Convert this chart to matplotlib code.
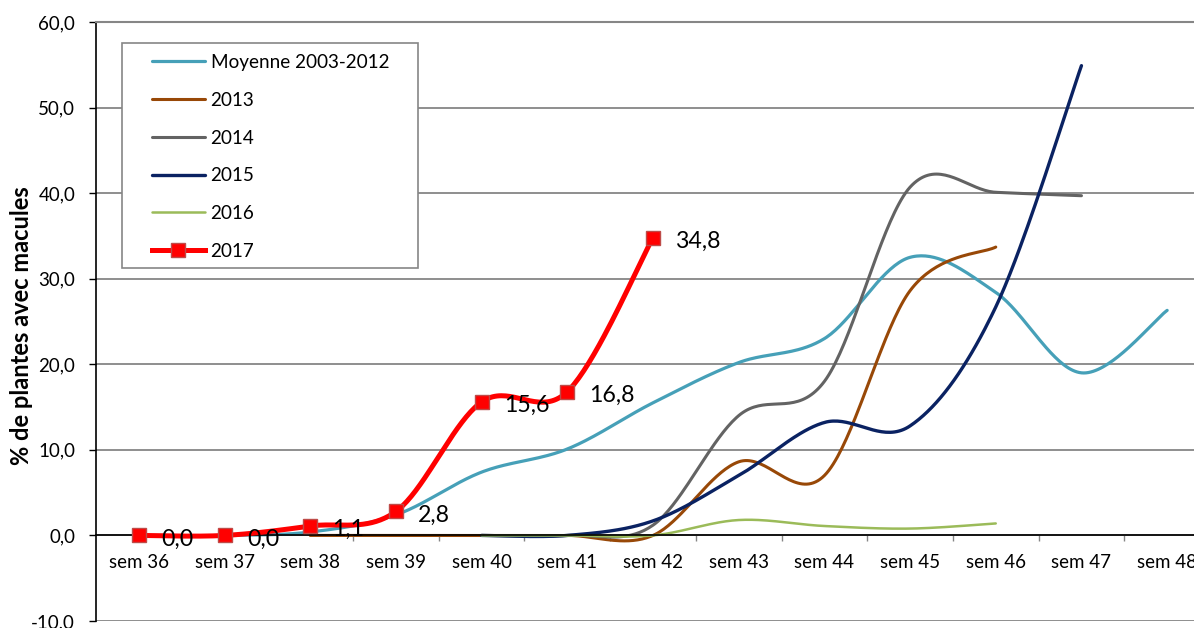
import numpy as np
import matplotlib
matplotlib.use('Agg')
from matplotlib import pyplot as plt
from matplotlib.patches import Rectangle

plt.rcParams['font.family'] = ['Lato', 'DejaVu Sans']

# semaines (axe des categories)
semaines = ['sem 36', 'sem 37', 'sem 38', 'sem 39', 'sem 40', 'sem 41', 'sem 42',
            'sem 43', 'sem 44', 'sem 45', 'sem 46', 'sem 47', 'sem 48']

# % de plantes avec macules
moyenne = [0.0, 0.0, 0.4, 2.4, 7.4, 10.1, 15.5, 20.2, 23.0, 32.5, 28.4, 19.0, 26.3]
y2013 = [0.0, 0.0, 0.0, 0.0, 0.0, 8.6, 7.0, 28.6, 33.7]          # sem 38 -> 46
y2014 = [0.0, 0.0, 1.2, 14.0, 18.0, 40.7, 40.1, 39.7]             # sem 40 -> 47
y2015 = [0.0, 0.0, 1.7, 7.0, 13.2, 12.8, 26.7, 54.9]              # sem 40 -> 47
y2016 = [0.0, 0.0, 0.0, 1.8, 1.1, 0.8, 1.4]                       # sem 40 -> 46
y2017 = [0.0, 0.0, 1.1, 2.8, 15.6, 16.8, 34.8]                    # sem 36 -> 42

debut = {'moyenne': 0, '2013': 2, '2014': 4, '2015': 4, '2016': 4, '2017': 0}


def lissage(x, y, n=40):
    # courbe lissee facon Excel (Catmull-Rom, extremites dupliquees)
    x = np.asarray(x, float)
    y = np.asarray(y, float)
    px = np.concatenate([[x[0]], x, [x[-1]]])
    py = np.concatenate([[y[0]], y, [y[-1]]])
    t = np.linspace(0, 1, n)
    h00 = 2 * t**3 - 3 * t**2 + 1
    h10 = t**3 - 2 * t**2 + t
    h01 = -2 * t**3 + 3 * t**2
    h11 = t**3 - t**2
    xs, ys = [], []
    for i in range(1, len(px) - 2):
        mx1 = (px[i + 1] - px[i - 1]) / 2
        mx2 = (px[i + 2] - px[i]) / 2
        my1 = (py[i + 1] - py[i - 1]) / 2
        my2 = (py[i + 2] - py[i]) / 2
        xs.append(h00 * px[i] + h10 * mx1 + h01 * px[i + 1] + h11 * mx2)
        ys.append(h00 * py[i] + h10 * my1 + h01 * py[i + 1] + h11 * my2)
    return np.concatenate(xs), np.concatenate(ys)


W, H = 1194, 628
fig = plt.figure(figsize=(W / 100, H / 100), dpi=100)
ax = fig.add_axes([96 / W, 7 / H, 1114 / W, 599 / H])
ax.set_xlim(-0.5, len(semaines) - 0.5)
ax.set_ylim(-10, 60)

series = [
    ('Moyenne 2003-2012', moyenne, debut['moyenne'], '#46A0B8', 2.3),
    ('2013', y2013, debut['2013'], '#984807', 2.2),
    ('2014', y2014, debut['2014'], '#636363', 2.2),
    ('2015', y2015, debut['2015'], '#0A2262', 2.4),
    ('2016', y2016, debut['2016'], '#9BBB59', 1.8),
]

handles = []
for nom, vals, d, col, lw in series:
    x = np.arange(d, d + len(vals))
    sx, sy = lissage(x, vals)
    ln, = ax.plot(sx, sy, color=col, lw=lw, solid_capstyle='round', label=nom)
    handles.append(ln)

# 2017 avec marqueurs et etiquettes
x17 = np.arange(debut['2017'], debut['2017'] + len(y2017))
sx, sy = lissage(x17, y2017)
ax.plot(sx, sy, color='#FF0000', lw=3.6, solid_capstyle='round', zorder=4)
ax.plot(x17, y2017, ls='none', marker='s', ms=10, mfc='#FF0000',
        mec='#BE4B48', mew=1, zorder=5)
h17, = ax.plot([], [], color='#FF0000', lw=3.6, marker='s', ms=10,
               mfc='#FF0000', mec='#BE4B48', mew=1, label='2017')
handles.append(h17)
for xi, v in zip(x17, y2017):
    ax.annotate(f'{v:.1f}'.replace('.', ','), (xi, v), xytext=(16, -2.5),
                textcoords='offset points', ha='left', va='center',
                fontsize=16.7, zorder=6)

# axes
ax.spines['right'].set_visible(False)
ax.spines['top'].set_color('#868686')
ax.spines['top'].set_linewidth(1.5)
ax.spines['left'].set_color('black')
ax.spines['left'].set_linewidth(1.2)
ax.spines['bottom'].set_position(('data', 0))
ax.spines['bottom'].set_color('black')
ax.spines['bottom'].set_linewidth(1.2)

ax.set_yticks(np.arange(-10, 61, 10))
ax.set_yticklabels([f'{v:.1f}'.replace('.', ',') for v in np.arange(-10, 61, 10)])
ax.tick_params(axis='y', direction='out', length=5, width=1, pad=10,
               labelsize=13.5, colors='black')
ax.yaxis.grid(True, color='#868686', lw=1.3)
ax.set_axisbelow(True)

ax.set_xticks(np.arange(0.5, len(semaines) - 1, 1))
ax.set_xticklabels([])
ax.set_xticks(np.arange(len(semaines)), minor=True)
ax.set_xticklabels(semaines, minor=True)
ax.tick_params(axis='x', which='major', direction='out', length=4.5, width=1,
               color='#868686')
ax.tick_params(axis='x', which='minor', length=0, pad=13.5, labelsize=13.5)

fig.text(22 / W, 1 - 326 / H, '% de plantes avec macules', rotation=90,
         ha='center', va='center', fontsize=17, fontweight='bold')

# legende
fig.add_artist(Rectangle((122 / W, 1 - 268 / H), 296 / W, 225 / H,
                         transform=fig.transFigure, facecolor='white',
                         edgecolor='#868686', lw=1.2, zorder=2))
fig.legend(handles=handles, loc='upper left',
           bbox_to_anchor=(152 / W, 1 - 54 / H), bbox_transform=fig.transFigure,
           frameon=False, fontsize=13.6, handlelength=2.8, handletextpad=0.3,
           labelspacing=1.1, borderpad=0, borderaxespad=0)

plt.savefig('out.png', dpi=100)
